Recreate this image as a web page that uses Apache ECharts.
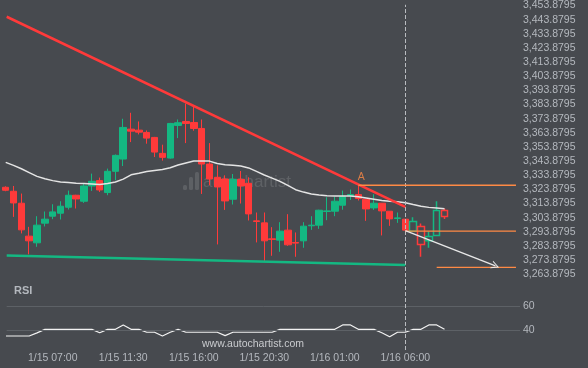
<!DOCTYPE html>
<html><head><meta charset="utf-8">
<script src="https://cdn.jsdelivr.net/npm/echarts@6/dist/echarts.min.js"></script>
<style>html,body{margin:0;padding:0;background:#474a4f}#c{width:588px;height:368px}</style>
</head><body><div id="c"></div>
<script>
// ---- data ----
const xLabelIdx = [6, 15, 24, 33, 42, 51];
const xLabels = ['1/15 07:00', '1/15 11:30', '1/15 16:00', '1/15 20:30', '1/16 01:00', '1/16 06:00'];
const priceTicks = [3263.8795, 3273.8795, 3283.8795, 3293.8795, 3303.8795, 3313.8795, 3323.8795, 3333.8795, 3343.8795, 3353.8795,
  3363.8795, 3373.8795, 3383.8795, 3393.8795, 3403.8795, 3413.8795, 3423.8795, 3433.8795, 3443.8795, 3453.8795];
const rsiTicks = [40, 60];
const opens = [3325.41, 3322.59, 3314.13, 3290.87, 3286.15, 3300.04, 3304.97, 3307.08, 3311.31, 3319.77,
  3315.54, 3326.33, 3330.13, 3321.67, 3336.69, 3345.35, 3366.5, 3365.79, 3364.17, 3360.65,
  3349.37, 3346.06, 3369.11, 3371.93, 3371.22, 3366.99, 3341.83, 3332.46, 3331.26, 3316.95,
  3331.05, 3328.23, 3301.66, 3300.25, 3288.97, 3288.05, 3295.10, 3286.36, 3287.56, 3298.2,
  3298.63, 3308.28, 3308.49, 3312.72, 3319.56, 3320.26, 3316.95, 3310.82, 3314.13, 3308.49,
  3303.35, 3302.86, 3294.40, 3297.71, 3287.56, 3291.37, 3308.99];
const closes = [3323.29, 3314.34, 3295.31, 3287.56, 3298.63, 3302.86, 3308.0, 3312.02, 3319.77, 3317.16,
  3326.33, 3329.64, 3323.51, 3336.69, 3347.96, 3367.70, 3365.09, 3364.38, 3360.16, 3350.29,
  3346.55, 3370.52, 3371.01, 3370.52, 3366.99, 3341.83, 3331.26, 3325.62, 3315.75, 3331.05,
  3326.33, 3306.59, 3301.23, 3287.56, 3288.55, 3294.40, 3284.74, 3285.94, 3297.92, 3298.63,
  3309.2, 3308.71, 3315.54, 3318.71, 3320.26, 3317.44, 3310.11, 3314.13, 3308.71, 3303.07,
  3303.77, 3295.10, 3301.23, 3285.02, 3290.66, 3308.99, 3304.76];
const lows = [3322.6, 3304.48, 3292.78, 3277.98, 3283.33, 3297.71, 3302.86, 3302.64, 3309.69, 3310.4,
  3314.34, 3322.8, 3322.1, 3319.77, 3330.34, 3340.42, 3357.34, 3362.76, 3356.21, 3346.76,
  3344.23, 3345.64, 3360.16, 3356.63, 3365.37, 3320.69, 3326.82, 3285.02, 3309.41, 3313.22,
  3313.92, 3301.94, 3286.43, 3273.47, 3276.99, 3279.81, 3284.04, 3276.28, 3282.63, 3295.31,
  3296.02, 3302.15, 3304.97, 3309.55, 3316.46, 3316.04, 3301.66, 3309.41, 3291.37, 3298.13,
  3300.25, 3295.10, 3294.40, 3276.28, 3282.63, 3291.37, 3303.07];
const highs = [3326.1, 3326.33, 3320.97, 3297.43, 3304.97, 3308.28, 3313.43, 3315.54, 3323.08, 3320.1,
  3328.02, 3335.06, 3332.25, 3338.59, 3348.6, 3373.83, 3378.06, 3371.93, 3365.58, 3361.0,
  3355.5, 3370.9, 3373.33, 3384.61, 3382.5, 3373.33, 3356.63, 3340.91, 3333.87, 3334.78,
  3336.9, 3332.46, 3307.58, 3307.58, 3297.22, 3300.74, 3306.38, 3293.48, 3300.74, 3304.97,
  3309.55, 3318.36, 3318.57, 3323.08, 3323.79, 3326.82, 3316.95, 3320.48, 3314.13, 3308.49,
  3307.58, 3302.86, 3304.26, 3299.82, 3294.19, 3315.54, 3310.40];
const hollowFrom = 52;
const ma = [3343.0, 3340.9, 3338.5, 3335.8, 3333.1, 3331.4, 3330.1, 3329.1, 3328.7, 3328.3,
  3328.0, 3327.7, 3327.3, 3328.1, 3329.1, 3331.2, 3334.2, 3335.3, 3336.5, 3337.3,
  3338.0, 3339.2, 3341.1, 3342.6, 3344.0, 3344.0, 3343.9, 3342.2, 3341.3, 3340.9,
  3340.4, 3339.1, 3336.6, 3334.1, 3331.9, 3329.6, 3326.7, 3323.7, 3322.0, 3320.6,
  3319.9, 3319.4, 3319.3, 3319.3, 3319.3, 3318.7, 3317.9, 3317.0, 3316.1, 3315.5,
  3315.1, 3314.5, 3313.2, 3312.0, 3311.2, 3310.8, 3310.3];
const rsi = [35.3, 35.3, 35.3, 35.3, 37.9, 40.8, 40.8, 40.8, 40.8, 40.8,
  40.8, 40.8, 38.0, 40.8, 40.8, 44.4, 40.8, 40.8, 38.4, 38.4,
  35.3, 38.4, 40.8, 38.4, 38.4, 38.4, 38.4, 38.4, 35.6, 38.4,
  38.4, 38.4, 38.4, 38.4, 38.4, 40.8, 40.8, 40.8, 40.8, 40.8,
  40.8, 40.8, 40.8, 44.4, 44.4, 40.8, 40.8, 40.8, 38.0, 34.7,
  38.4, 38.4, 40.8, 40.8, 44.4, 44.4, 40.8];
const resistance = [[0.128, 3445.93], [51, 3311.52]];
const support = [[0.128, 3277.27], [51, 3270.43]];
const levelA = [[45, 3326.82], [65.12, 3326.82]];
const level2 = [[51, 3294.40], [65.12, 3294.40]];
const level3 = [[55, 3268.81], [65.12, 3268.81]];
const forecast = [[51, 3294.75], [62.5, 3269.8]];
const markerIdx = 51;
const pointA = [45, 3326.82];

// ---- chart ----
const GREEN = '#14b882', RED = '#ff3a3a', ORANGE = '#ff8a45', TXT = '#b4b8be';
const FONT = '"Liberation Sans", Arial, sans-serif';
const xMin = 0.128, xMax = 65.634;

const candleData = opens.map((o, i) => {
  const item = { value: [i, o, closes[i], lows[i], highs[i]] };
  if (i >= hollowFrom) {
    const c = closes[i] >= o ? GREEN : RED;
    item.itemStyle = { color: 'transparent', color0: 'transparent', borderColor: c, borderColor0: c, borderWidth: 1.5 };
  }
  return item;
});

const fmtPrice = v => Number(v).toLocaleString('en-US', { minimumFractionDigits: 4, maximumFractionDigits: 4 });
const lineS = (data, color, width, z) => ({
  type: 'line', data, xAxisIndex: 0, yAxisIndex: 0, symbol: 'none', silent: true, z: z || 3,
  lineStyle: { color, width }, animation: false
});

const chart = echarts.init(document.getElementById('c'), null, { renderer: 'canvas' });
chart.setOption({
  backgroundColor: '#474a4f',
  animation: false,
  title: { text: 'RSI', left: 14, top: 285, padding: 0, textStyle: { color: TXT, fontSize: 11, fontWeight: 'bold', fontFamily: FONT } },
  graphic: [
    { type: 'text', left: 203, top: 174, silent: true, z: 0,
      style: { text: 'autochartist', fill: 'rgba(255,255,255,0.13)', font: '17px ' + FONT, letterSpacing: 4 } },
    { type: 'rect', left: 183, top: 185, z: 0, silent: true, shape: { width: 4, height: 5, r: 1.5 }, style: { fill: 'rgba(255,255,255,0.12)' } },
    { type: 'rect', left: 189, top: 177, z: 0, silent: true, shape: { width: 4, height: 13, r: 1.5 }, style: { fill: 'rgba(255,255,255,0.12)' } },
    { type: 'rect', left: 195, top: 172, z: 0, silent: true, shape: { width: 4, height: 18, r: 1.5 }, style: { fill: 'rgba(255,255,255,0.12)' } },
    { type: 'text', left: 202, top: 339, silent: true,
      style: { text: 'www.autochartist.com', fill: '#c9cbce', font: '10.5px ' + FONT, letterSpacing: 0.2 } }
  ],
  grid: [
    { left: 6.7, right: 68, top: 4, height: 279 },
    { left: 6.7, right: 68, top: 283, height: 67 }
  ],
  xAxis: [
    { type: 'value', gridIndex: 0, min: xMin, max: xMax, show: false },
    { type: 'value', gridIndex: 1, min: xMin, max: xMax,
      axisLine: { show: false }, axisTick: { show: false }, splitLine: { show: false },
      axisLabel: { customValues: xLabelIdx, color: TXT, fontSize: 10.5, fontFamily: FONT, margin: 3,
        formatter: v => xLabels[xLabelIdx.indexOf(Math.round(v))] || '' } }
  ],
  yAxis: [
    { type: 'value', gridIndex: 0, position: 'right', min: 3257.75, max: 3454.38,
      axisLine: { show: false }, axisTick: { show: false }, splitLine: { show: false },
      axisLabel: { customValues: priceTicks, color: TXT, fontSize: 10.5, fontFamily: FONT, margin: 3, formatter: fmtPrice } },
    { type: 'value', gridIndex: 1, position: 'right', min: 23.79, max: 78.93,
      axisLine: { show: false }, axisTick: { show: false }, splitLine: { show: false },
      axisLabel: { customValues: rsiTicks, color: TXT, fontSize: 10.5, fontFamily: FONT, margin: 3 } }
  ],
  series: [
    {
      type: 'candlestick', xAxisIndex: 0, yAxisIndex: 0, data: candleData, clip: false,
      encode: { x: 0, y: [1, 2, 3, 4] }, barWidth: 7, silent: true, z: 2,
      itemStyle: { color: GREEN, color0: RED, borderColor: GREEN, borderColor0: RED, borderWidth: 1 },
      markLine: { silent: true, symbol: 'none', label: { show: false },
        lineStyle: { color: '#b9bcc0', type: [4, 2], width: 1 }, data: [{ xAxis: markerIdx }] }
    },
    lineS(ma.map((v, i) => [i, v]), '#e4e4e4', 1.5, 4),
    lineS(resistance, RED, 2.5, 5),
    lineS(support, GREEN, 2.5, 5),
    lineS(levelA, ORANGE, 1.3, 5),
    lineS(level2, ORANGE, 1.3, 5),
    lineS(level3, ORANGE, 1.3, 5),
    {
      type: 'lines', coordinateSystem: 'cartesian2d', xAxisIndex: 0, yAxisIndex: 0, silent: true, z: 6,
      symbol: ['none', 'path://M0 10 L5 0 L10 10 L8.6 10 L5 2.8 L1.4 10 Z'], symbolSize: 8,
      lineStyle: { color: '#e8e8e8', width: 1.4, opacity: 1 },
      data: [{ coords: forecast }]
    },
    {
      type: 'scatter', xAxisIndex: 0, yAxisIndex: 0, symbolSize: 0, silent: true, z: 6,
      data: [pointA],
      label: { show: true, position: 'top', distance: 3, offset: [3, 0], formatter: 'A', color: ORANGE, fontSize: 10.5, fontFamily: FONT }
    },
    {
      type: 'line', xAxisIndex: 1, yAxisIndex: 1, data: rsi.map((v, i) => [i, v]), symbol: 'none', silent: true,
      lineStyle: { color: '#f2f2f2', width: 1.2 }, z: 4,
      markLine: { silent: true, symbol: 'none', label: { show: false }, data: [
        { yAxis: rsiTicks[0], lineStyle: { color: '#5d6166', type: 'solid', width: 1 } },
        { yAxis: rsiTicks[1], lineStyle: { color: '#5d6166', type: 'solid', width: 1 } },
        { xAxis: markerIdx, lineStyle: { color: '#b9bcc0', type: [4, 2], width: 1 } }
      ] }
    }
  ]
});
</script></body></html>
